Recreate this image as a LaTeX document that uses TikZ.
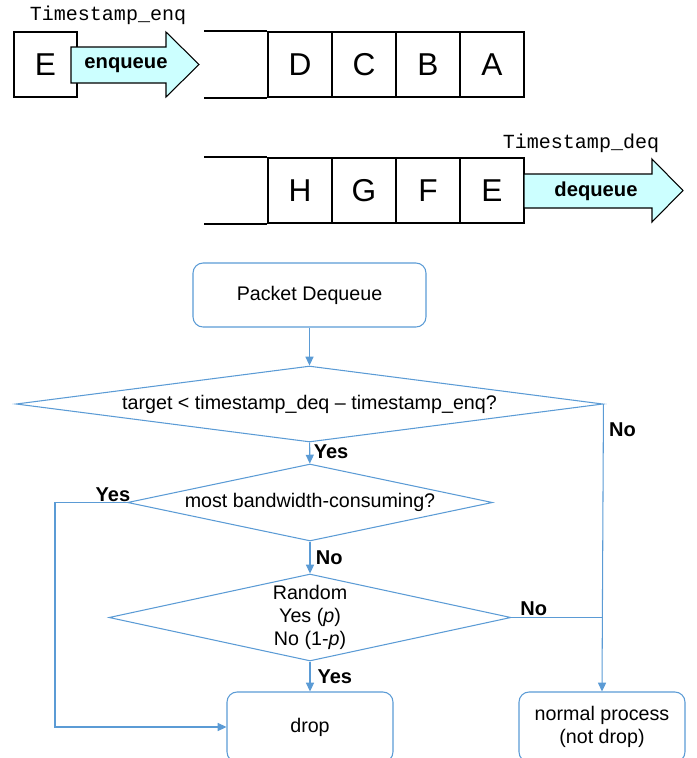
\documentclass[tikz,border=0pt]{standalone}
\usepackage{fontspec}
\setmainfont{Liberation Sans}
\setmonofont{Liberation Mono}
\usetikzlibrary{arrows.meta,shapes.geometric}
\definecolor{flowblue}{RGB}{91,155,213}
\definecolor{arrowcyan}{RGB}{204,255,255}

\begin{document}
\begin{tikzpicture}[x=0.02cm, y=-0.02cm,
  cell/.style={draw, line width=1.1pt, minimum width=1.28cm, minimum height=1.3cm, inner sep=0pt, font=\fontsize{18}{20}\selectfont},
  blockarrow/.style={draw, line width=0.6pt, fill=arrowcyan},
  stamp/.style={font=\ttfamily\fontsize{11.4}{13}\selectfont},
  flowbox/.style={draw=flowblue, line width=0.6pt, rounded corners=0.2cm, align=center, font=\fontsize{11.2}{13}\selectfont},
  decision/.style={draw=flowblue, line width=0.6pt, diamond, inner sep=0pt, align=center, font=\fontsize{11.2}{13}\selectfont},
  flowline/.style={draw=flowblue, line width=0.6pt},
  flowarrow/.style={flowline, -{Triangle[length=5pt, width=4.6pt]}},
  answer/.style={font=\bfseries\fontsize{11.4}{13}\selectfont, inner sep=0pt}]
  \useasboundingbox (0,0) rectangle (697,758);
  \clip (0,0) rectangle (697,758);

  % enqueue side
  \node[stamp] (stampenq) at (108,15) {Timestamp\_enq};
  \node[cell, minimum width=1.26cm] (inE) at (45.5,64.5) {E};
  \draw[blockarrow] (71,47) -- (166,47) -- (166,32) -- (199,64.5) -- (166,97) -- (166,83) -- (71,83) -- cycle;
  \node[font=\bfseries\fontsize{11.5}{13}\selectfont] (enq) at (126,65) {enqueue};
  \node[cell] (qD) at (300,64.5) {D};
  \node[cell] (qC) at (364,64.5) {C};
  \node[cell] (qB) at (428,64.5) {B};
  \node[cell] (qA) at (492,64.5) {A};
  \draw[line width=1.1pt] (qD.north west) -- ++(-63,0);
  \draw[line width=1.1pt] (qD.south west) -- ++(-63,0);

  % dequeue side
  \node[stamp] (stampdeq) at (581,143) {Timestamp\_deq};
  \node[cell] (qH) at (300,190.5) {H};
  \node[cell] (qG) at (364,190.5) {G};
  \node[cell] (qF) at (428,190.5) {F};
  \node[cell] (qE) at (492,190.5) {E};
  \draw[line width=1.1pt] (qH.north west) -- ++(-63,0);
  \draw[line width=1.1pt] (qH.south west) -- ++(-63,0);
  \draw[blockarrow] (524,174) -- (652,174) -- (652,159) -- (683,190.5) -- (652,222) -- (652,208) -- (524,208) -- cycle;
  \node[font=\bfseries\fontsize{11.5}{13}\selectfont] (deq) at (596,191) {dequeue};

  % flow chart
  \node[flowbox, minimum width=4.66cm, minimum height=1.28cm] (pd) at (309.5,295) {Packet Dequeue};
  \node[decision, aspect=7.7, minimum width=11.74cm, minimum height=1.52cm] (d1) at (309.5,404) {target < timestamp\_deq -- timestamp\_enq?};
  \node[decision, aspect=4.74, minimum width=7.3cm, minimum height=1.54cm] (d2) at (310,502.5) {most bandwidth-consuming?};
  \node[decision, aspect=4.6, minimum width=8.04cm, minimum height=1.74cm] (d3) at (310,617.5) {Random\\Yes (\textit{p})\\No (1-\textit{p})};
  \node[flowbox, minimum width=3.32cm, minimum height=1.4cm] (drop) at (310,727) {drop};
  \node[flowbox, minimum width=3.32cm, minimum height=1.4cm] (normal) at (602,727) {normal process\\(not drop)};
  \coordinate (yesturn) at (55,0);

  \draw[flowarrow] (pd) -- (d1);
  \draw[flowarrow] (d1) -- (d2) node[answer, pos=0.45, anchor=west, xshift=2pt] {Yes};
  \draw[flowarrow] (d2) -- (d3) node[answer, pos=0.5, anchor=west, xshift=3pt] {No};
  \draw[flowarrow] (d3) -- (drop) node[answer, pos=0.5, anchor=west, xshift=4pt] {Yes};
  \draw[flowarrow] (d1.east) -- (normal.north) node[answer, pos=0.09, anchor=west, xshift=3pt] {No};
  \draw[flowline] (d3.east) -- (d3.east -| normal.north);
  \node[answer, anchor=south west] (d3no) at (520,616) {No};
  \draw[flowarrow] (d2.west) -- (d2.west -| yesturn) |- (drop.west);
  \node[answer] (d2yes) at (113,495) {Yes};
\end{tikzpicture}
\end{document}
